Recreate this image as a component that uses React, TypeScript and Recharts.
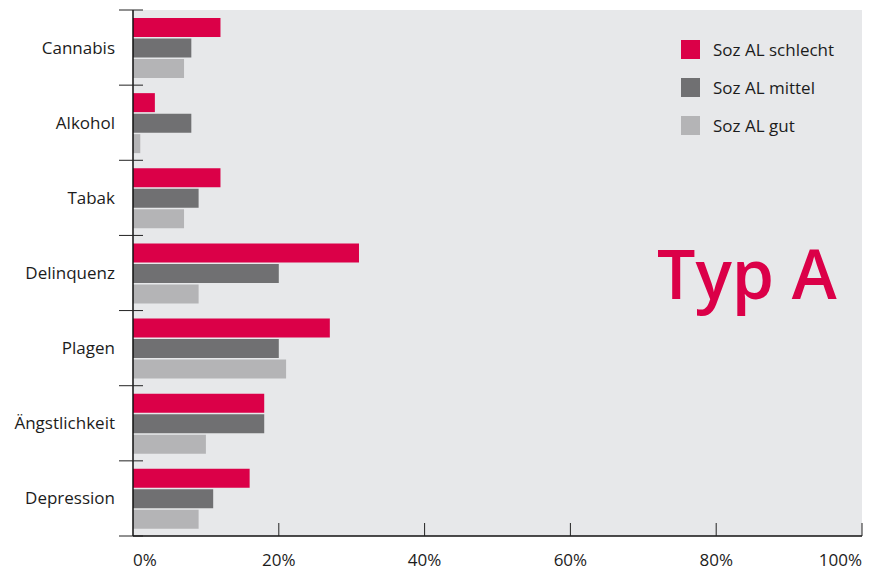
import React from "react";
import { BarChart, Bar, XAxis, YAxis, CartesianGrid } from "recharts";

const categories = ["Cannabis", "Alkohol", "Tabak", "Delinquenz", "Plagen", "Ängstlichkeit", "Depression"];
const schlecht = [12, 3, 12, 31, 27, 18, 16];
const mittel = [8, 8, 9, 20, 20, 18, 11];
const gut = [7, 1, 7, 9, 21, 10, 9];
const xTicks = [0, 20, 40, 60, 80, 100];

const RED = "#db0048";
const DARK = "#707072";
const LIGHT = "#b4b4b6";
const BG = "#e7e8ea";
const INK = "#1c1c1c";
const FONT = "'Open Sans', sans-serif";

const data = categories.map((name, i) => ({
  name,
  schlecht: schlecht[i],
  mittel: mittel[i],
  gut: gut[i],
}));

const series = [
  { key: "schlecht", label: "Soz AL schlecht", color: RED },
  { key: "mittel", label: "Soz AL mittel", color: DARK },
  { key: "gut", label: "Soz AL gut", color: LIGHT },
];

function CategoryTick(props: any) {
  const { x, y, payload, index } = props;
  const half = payload.offset ?? 37.5;
  const last = index === categories.length - 1;
  return (
    <g>
      <line x1={x - 14} x2={x + 10} y1={y - half} y2={y - half} stroke="#222" strokeWidth={1} />
      {last && <line x1={x - 14} x2={x + 10} y1={y + half} y2={y + half} stroke="#222" strokeWidth={1} />}
      <text x={x - 18} y={y} dy={6} textAnchor="end" fill={INK} fontSize={17} fontFamily={FONT}>
        {payload.value}
      </text>
    </g>
  );
}

function PercentTick(props: any) {
  const { x, y, payload, index } = props;
  const anchor = index === 0 ? "start" : index === xTicks.length - 1 ? "end" : "middle";
  return (
    <g>
      {index > 0 && <line x1={x} x2={x} y1={y - 13} y2={y} stroke="#222" strokeWidth={1} />}
      <text x={x} y={y + 30} textAnchor={anchor} fill={INK} fontSize={17} fontFamily={FONT}>
        {payload.value}%
      </text>
    </g>
  );
}

function LegendBox() {
  return (
    <div style={{ position: "absolute", left: 681, top: 30, fontFamily: FONT, fontSize: 17, color: INK }}>
      {series.map((s) => (
        <div key={s.key} style={{ display: "flex", alignItems: "center", height: 38 }}>
          <span style={{ width: 19, height: 19, background: s.color, display: "inline-block", marginRight: 13 }} />
          <span>{s.label}</span>
        </div>
      ))}
    </div>
  );
}

export default function App() {
  return (
    <div style={{ position: "absolute", left: 0, top: 0, width: 876, height: 571, background: "#fff" }}>
      <BarChart
        width={876}
        height={571}
        data={data}
        layout="vertical"
        margin={{ top: 10, right: 14, bottom: 0, left: 0 }}
        barCategoryGap={8}
        barGap={1.5}
      >
        <CartesianGrid fill={BG} stroke="none" horizontal={false} vertical={false} />
        <XAxis
          type="number"
          domain={[0, 100]}
          ticks={xTicks}
          height={35}
          tickSize={0}
          tickMargin={0}
          tickLine={false}
          axisLine={{ stroke: "#111", strokeWidth: 1.5 }}
          tick={<PercentTick />}
          interval={0}
        />
        <YAxis
          type="category"
          dataKey="name"
          width={133}
          tickSize={0}
          tickMargin={0}
          tickLine={false}
          axisLine={{ stroke: "#111", strokeWidth: 1.5 }}
          tick={<CategoryTick />}
          interval={0}
        />
        {series.map((s) => (
          <Bar key={s.key} dataKey={s.key} name={s.label} fill={s.color} isAnimationActive={false} />
        ))}
      </BarChart>
      <LegendBox />
      <div
        style={{
          position: "absolute",
          left: 657,
          top: 226,
          fontFamily: FONT,
          fontWeight: 600,
          fontSize: 68,
          color: RED,
          lineHeight: "normal",
        }}
      >
        Typ A
      </div>
    </div>
  );
}
